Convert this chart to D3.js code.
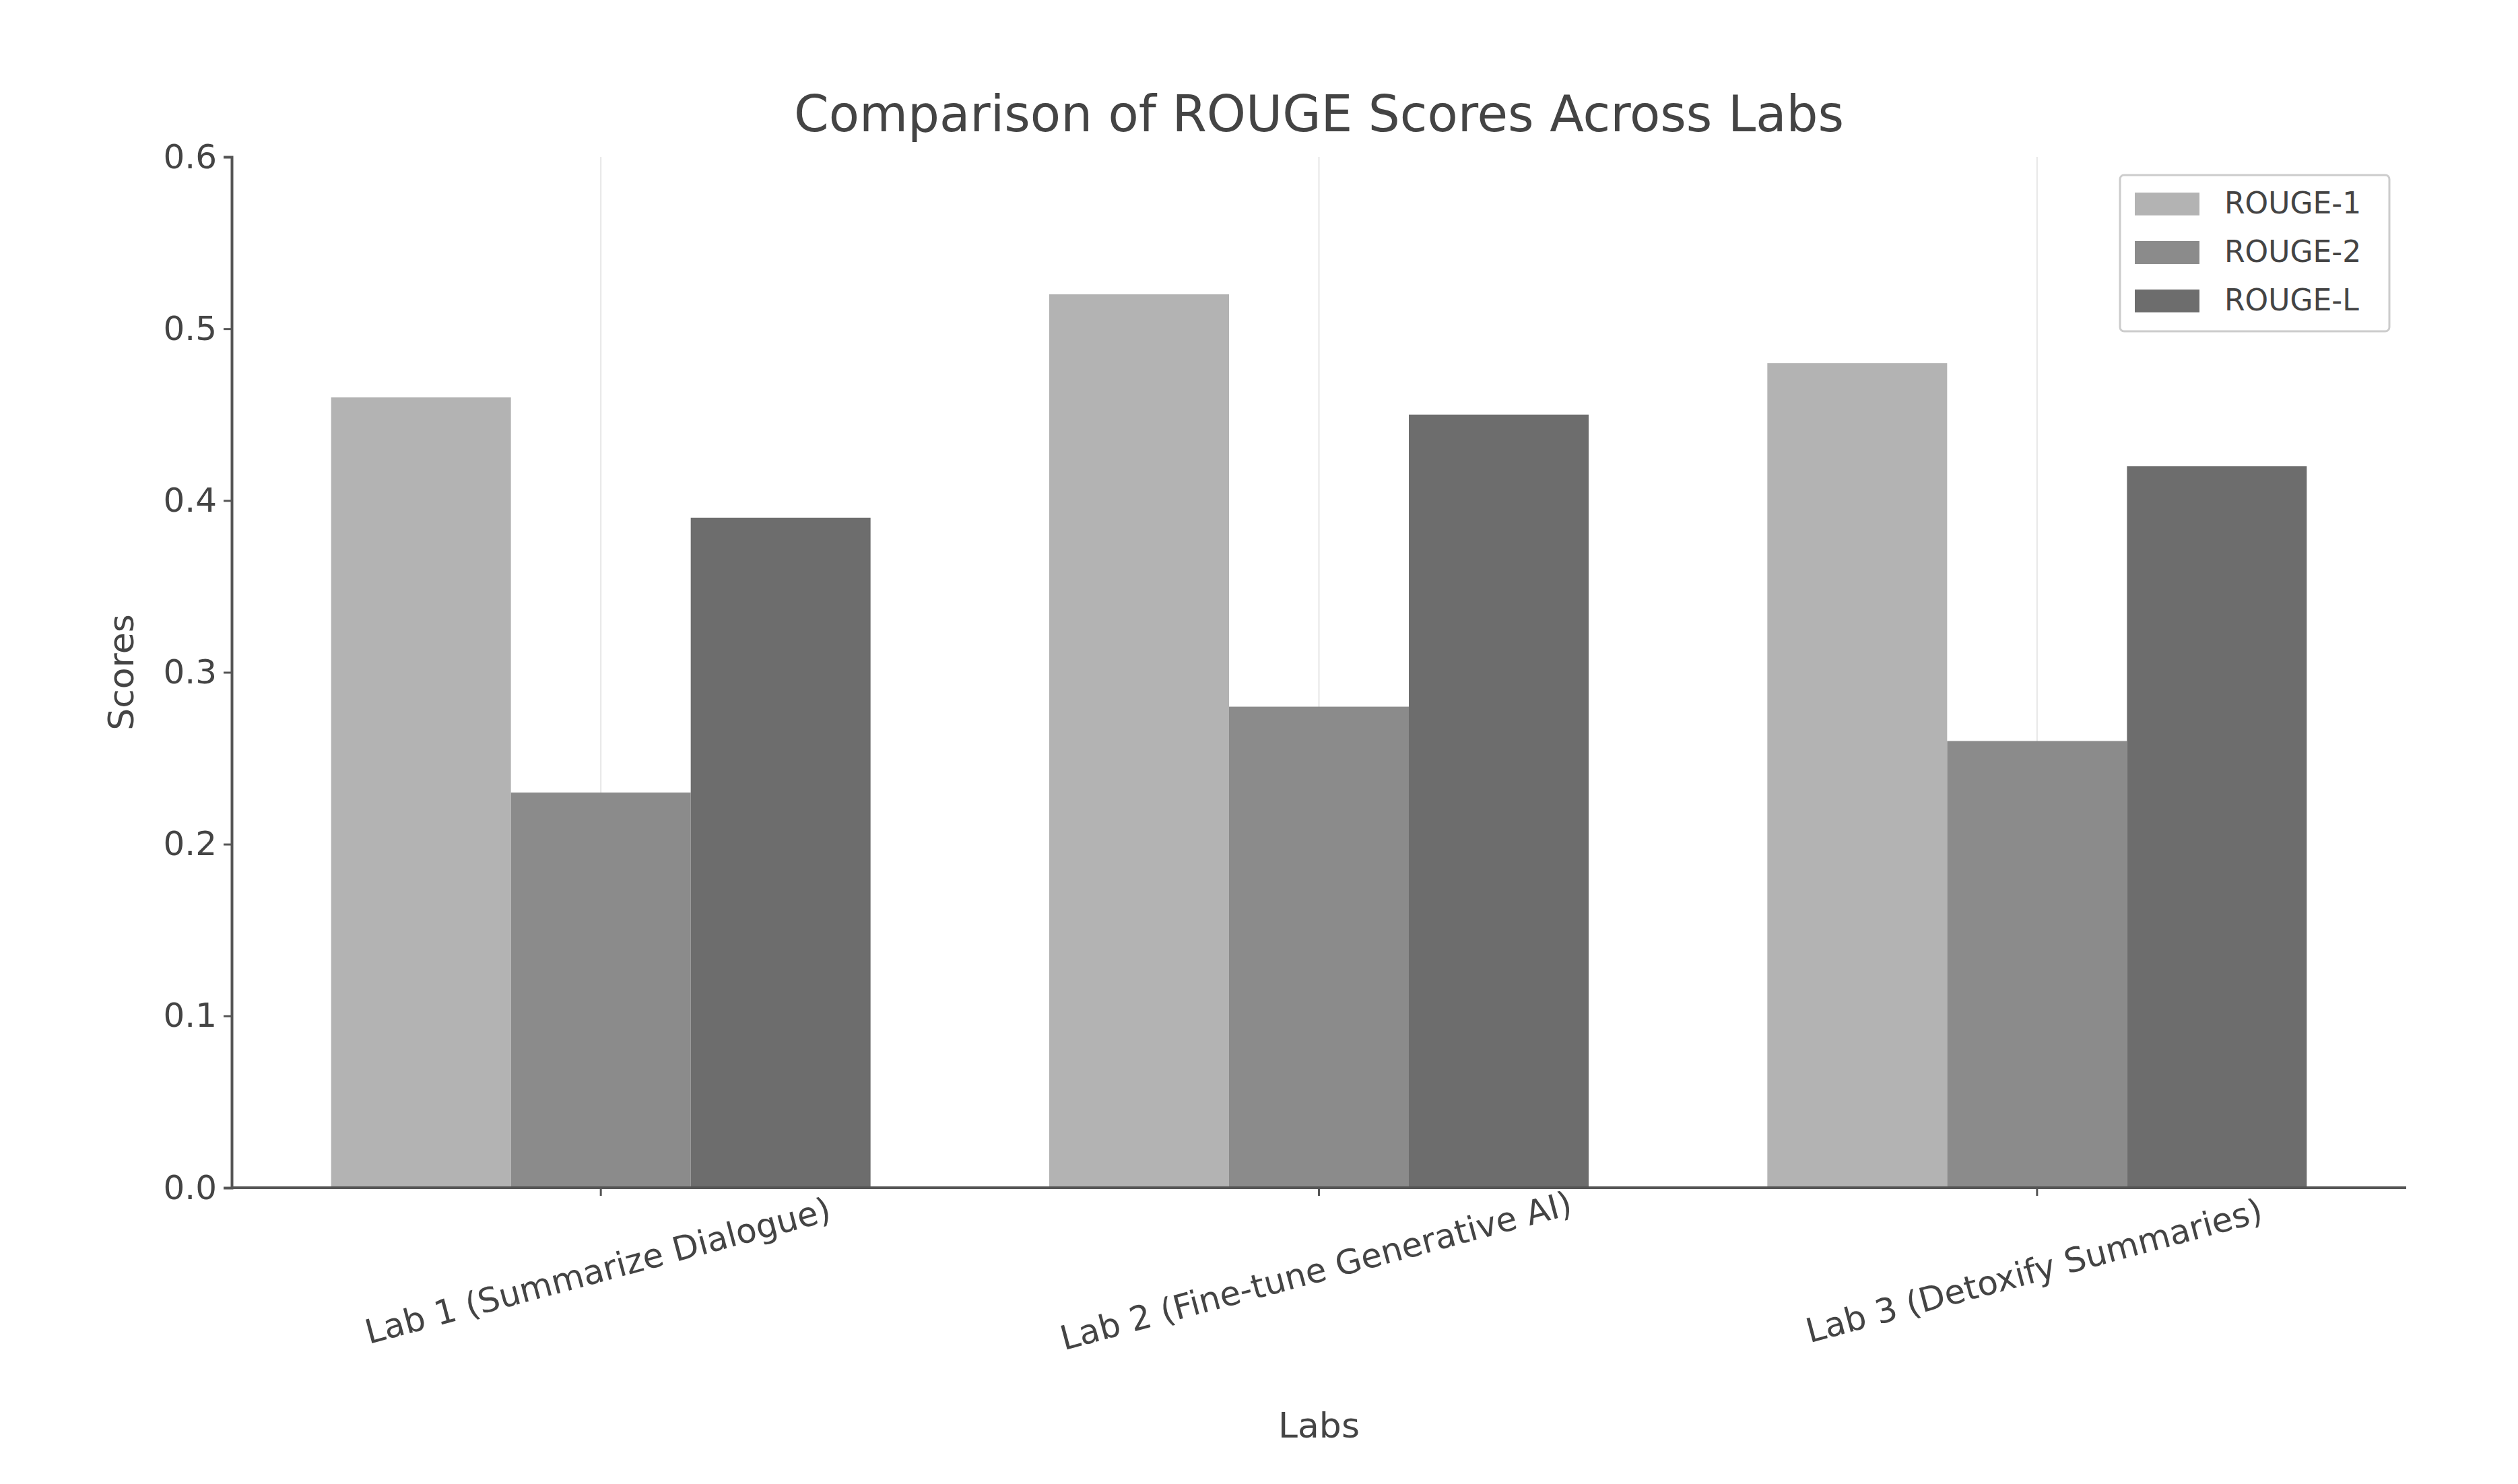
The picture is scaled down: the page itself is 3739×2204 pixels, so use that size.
<!DOCTYPE html><html><head><script src="https://cdn.jsdelivr.net/npm/d3@7"></script>
<style>body{margin:0;background:#fff}text{font-family:"DejaVu Sans",sans-serif}</style></head><body>
<script>
const labs=["Lab 1 (Summarize Dialogue)","Lab 2 (Fine-tune Generative AI)","Lab 3 (Detoxify Summaries)"];
const series=["ROUGE-1","ROUGE-2","ROUGE-L"];
const rouge1=[0.46,0.52,0.48];
const rouge2=[0.23,0.28,0.26];
const rougeL=[0.39,0.45,0.42];
const colors=["#b3b3b3","#8b8b8b","#6d6d6d"];
const yTicks=[0,0.1,0.2,0.3,0.4,0.5,0.6];
const vals=[rouge1,rouge2,rougeL];
const W=3739,H=2204,L=344,R=3573,T=233,B=1764;
const svg=d3.select("body").append("svg").attr("width",W).attr("height",H);
const x=d3.scaleBand().domain(labs).range([L+15,R-15]);
const xs=d3.scaleBand().domain(series).range([0,801]);
const y=d3.scaleLinear().domain([0,0.6]).range([B,T]);
svg.append("g").selectAll("line").data(labs).join("line").attr("x1",d=>x(d)+x.bandwidth()/2).attr("x2",d=>x(d)+x.bandwidth()/2).attr("y1",T).attr("y2",B).attr("stroke","#e6e6e6").attr("stroke-width",2);
series.forEach((s,i)=>{svg.append("g").selectAll("rect").data(labs).join("rect")
 .attr("x",(d)=>x(d)+x.bandwidth()/2-400.5+xs(s)).attr("width",xs.bandwidth())
 .attr("y",(d,j)=>y(vals[i][j])).attr("height",(d,j)=>B-y(vals[i][j])).attr("fill",colors[i]);});
const ya=svg.append("g").attr("transform",`translate(${L},0)`).call(d3.axisLeft(y).tickValues(yTicks).tickFormat(d3.format(".1f")).tickSize(12).tickPadding(10));
ya.selectAll("text").attr("font-size",50).attr("fill","#444");
const xa=svg.append("g").attr("transform",`translate(0,${B})`).call(d3.axisBottom(x).tickSize(12).tickFormat(""));
xa.select(".domain").attr("d",`M${L},0H${R}`);
svg.selectAll(".domain").attr("stroke","#555").attr("stroke-width",4);
svg.selectAll(".tick line").attr("stroke","#555").attr("stroke-width",3);
labs.forEach(d=>{const cx=x(d)+x.bandwidth()/2;
 svg.append("text").attr("transform",`translate(${cx},${B+140}) rotate(-15)`).attr("text-anchor","middle").attr("font-size",50).attr("fill","#444").text(d);});
svg.append("text").attr("x",(L+R)/2).attr("y",195).attr("text-anchor","middle").attr("font-size",74).attr("fill","#444").text("Comparison of ROUGE Scores Across Labs");
svg.append("text").attr("x",(L+R)/2).attr("y",2135).attr("text-anchor","middle").attr("font-size",52).attr("fill","#444").text("Labs");
svg.append("text").attr("transform",`translate(198,${(T+B)/2}) rotate(-90)`).attr("text-anchor","middle").attr("font-size",52).attr("fill","#444").text("Scores");
const lg=svg.append("g").attr("transform","translate(3148,260)");
lg.append("rect").attr("width",400).attr("height",232).attr("fill","#fff").attr("stroke","#ccc").attr("stroke-width",3).attr("rx",6);
series.forEach((s,i)=>{lg.append("rect").attr("x",22).attr("y",26+i*72).attr("width",96).attr("height",34).attr("fill",colors[i]);
 lg.append("text").attr("x",155).attr("y",57+i*72).attr("font-size",44).attr("fill","#444").text(s);});
</script></body></html>
